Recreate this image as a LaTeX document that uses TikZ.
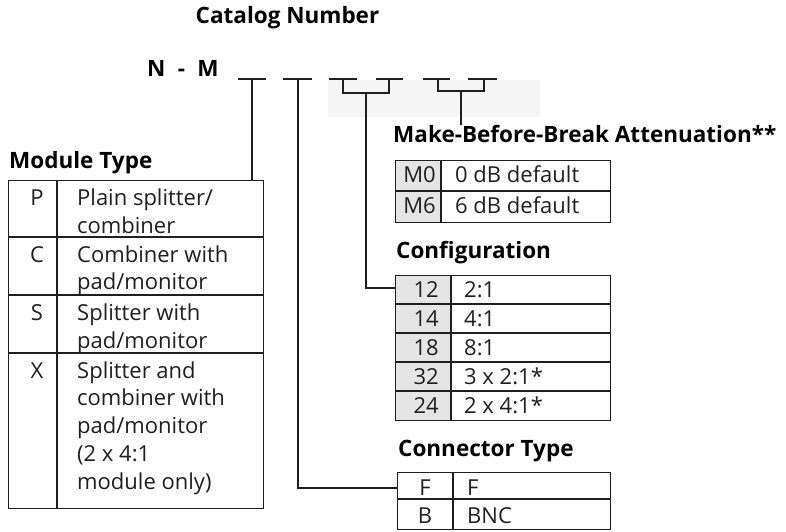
\documentclass[tikz,border=0pt]{standalone}
\usepackage{fontspec}
\setmainfont{Open Sans}
\definecolor{ink}{gray}{0.12}
\definecolor{cellgray}{gray}{0.9}
\definecolor{smudge}{gray}{0.96}
\tikzset{
  rule/.style={draw=ink, line width=1.1pt},
  frame/.style={draw=ink, line width=1.1pt, rectangle, inner sep=0pt, anchor=north west},
  head/.style={font=\fontsize{22.5}{26}\selectfont\bfseries, inner sep=0pt, text=black},
  body/.style={font=\fontsize{22}{28}\selectfont, inner sep=0pt, text=ink},
  lbl/.style={body, anchor=base west},
  code/.style={body, anchor=base},
  coder/.style={body, anchor=base east},
}
\begin{document}
\begin{tikzpicture}[x=1pt, y=-1pt]
\useasboundingbox (0,0) rectangle (786,532);
% faint scan shading behind the brackets
\fill[smudge] (328,80) rectangle (540,117);

% title
\node[head, anchor=base] (title) at (287.5,24) {Catalog Number};
\node[head, anchor=base west] (nm) at (147,77) {N\hspace{0.55em}-\hspace{0.55em}M};

% blanks
\foreach \a/\b [count=\i] in {238/266,283/312,329/357,376/403,423/450,468/497}{
  \draw[rule] (\a,79) -- (\b,79);
}
\coordinate (b1) at (252,79);
\coordinate (b2) at (298,79);
\coordinate (b3) at (343,79);
\coordinate (b4) at (389,79);
\coordinate (b5) at (438,79);
\coordinate (b6) at (484,79);
\coordinate (k1) at (366,93);
\coordinate (k2) at (461,91);

% ---------------- Module Type ----------------
\node[head, anchor=base west] (modhead) at (9,168) {Module Type};
\node[frame, minimum width=255pt, minimum height=328pt] (modbox) at (8,180) {};
\draw[rule] (57,180) -- (57,508);
\foreach \y in {237,295,353} \draw[rule] (8,\y) -- (263,\y);
\node[code] (mP) at (37,205) {P};
\node[lbl] (mP1) at (77,205) {Plain splitter/};
\node[lbl] (mP2) at (77,233) {combiner};
\node[code] (mC) at (37,262) {C};
\node[lbl] (mC1) at (77,262) {Combiner with};
\node[lbl] (mC2) at (77,289) {pad/monitor};
\node[code] (mS) at (37,320) {S};
\node[lbl] (mS1) at (77,320) {Splitter with};
\node[lbl] (mS2) at (77,348) {pad/monitor};
\node[code] (mX) at (37,378) {X};
\node[lbl] (mX1) at (77,378) {Splitter and};
\node[lbl] (mX2) at (77,405) {combiner with};
\node[lbl] (mX3) at (77,433) {pad/monitor};
\node[lbl] (mX4) at (77,461) {(2 x 4:1};
\node[lbl] (mX5) at (77,489) {module only)};

% ---------------- Make-Before-Break ----------------
\node[head, anchor=base west] (mbbhead) at (393,142) {Make-Before-Break Attenuation**};
\fill[cellgray] (395,160) rectangle (441,222);
\node[frame, minimum width=215pt, minimum height=62pt] (mbbbox) at (395,160) {};
\draw[rule] (441,160) -- (441,222);
\draw[rule] (395,191) -- (610,191);
\node[coder] (m0) at (436,182) {M0};
\node[lbl] (m0d) at (455,182) {0 dB default};
\node[coder] (m6) at (436,213) {M6};
\node[lbl] (m6d) at (455,213) {6 dB default};

% ---------------- Configuration ----------------
\node[head, anchor=base west] (confhead) at (396,258) {Configuration};
\fill[cellgray] (395,275) rectangle (451,420);
\node[frame, minimum width=215pt, minimum height=145pt] (confbox) at (395,275) {};
\draw[rule] (451,275) -- (451,420);
\foreach \y in {304,333,362,391} \draw[rule] (395,\y) -- (610,\y);
\foreach \c/\d/\y [count=\i] in {12/2:1/297,14/4:1/326,18/8:1/355,32/3 x 2:1*/384,24/2 x 4:1*/413}{
  \node[coder] (cc\i) at (439,\y) {\c};
  \node[lbl] (cd\i) at (464,\y) {\d};
}

% ---------------- Connector Type ----------------
\node[head, anchor=base west] (conhead) at (398,456) {Connector Type};
\node[frame, minimum width=213pt, minimum height=57pt] (conbox) at (397,472) {};
\draw[rule] (453,472) -- (453,529);
\draw[rule] (397,499) -- (610,499);
\node[code] (cF) at (425,495) {F};
\node[lbl] (cFd) at (467,495) {F};
\node[code] (cB) at (425,523) {B};
\node[lbl] (cBd) at (467,523) {BNC};

% ---------------- leaders ----------------
\coordinate (confin) at (395,288);
\coordinate (conin) at (397,488);
\draw[rule] (b1) -- (b1 |- modbox.north);
\draw[rule] (b2) |- (conin);
\draw[rule] (b3) -- (b3 |- k1) -- (b4 |- k1) -- (b4);
\draw[rule] (b5) -- (b5 |- k2) -- (b6 |- k2) -- (b6);
\draw[rule] (k1) |- (confin);
\draw[rule] (k2) -- (k2 |- mbbhead.north);
\end{tikzpicture}
\end{document}
